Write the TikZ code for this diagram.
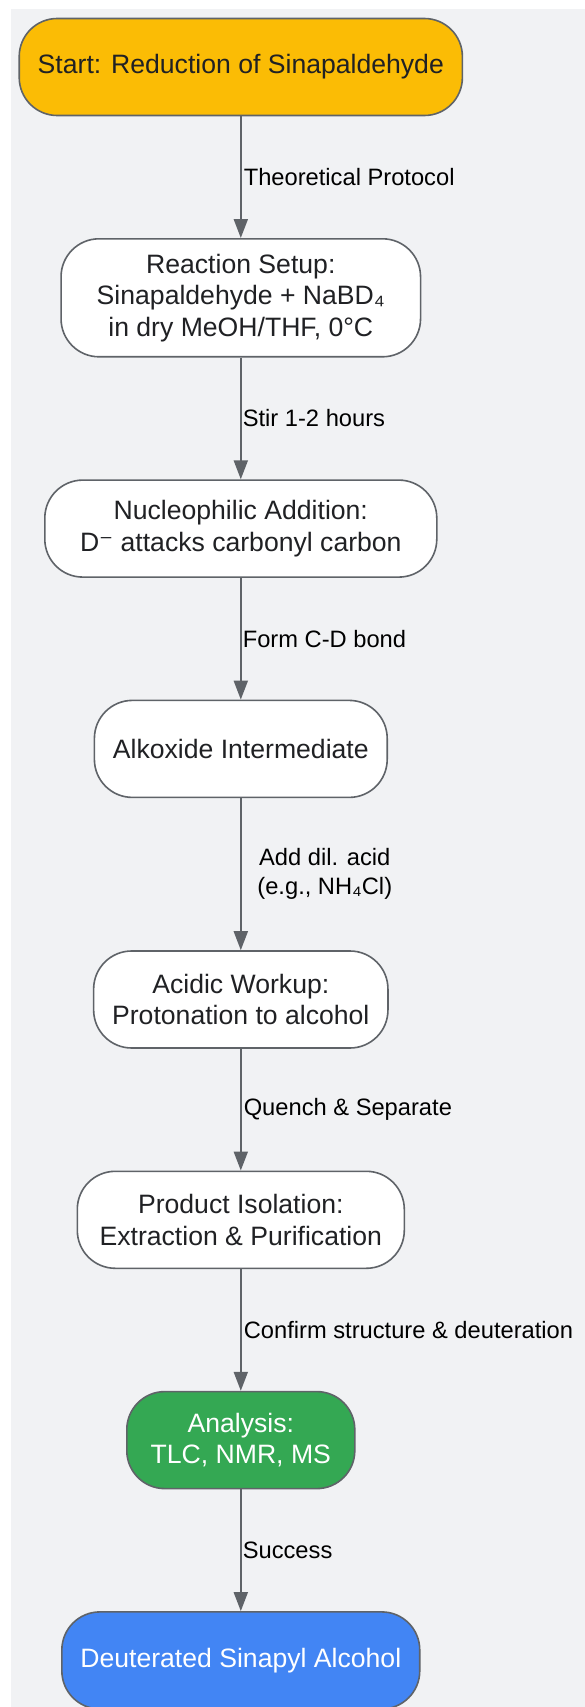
\documentclass[tikz,border=0pt]{standalone}
\usepackage{fontspec}
\setmainfont{Liberation Sans}
\newfontfamily\symfont{DejaVu Sans}
\usetikzlibrary{positioning,arrows.meta}
\definecolor{bggray}{HTML}{F1F2F4}
\definecolor{linegray}{HTML}{5F6368}
\definecolor{txtdark}{HTML}{202124}
\definecolor{startyellow}{HTML}{FBBC05}
\definecolor{okgreen}{HTML}{34A853}
\definecolor{endblue}{HTML}{4285F4}

\begin{document}
\begin{tikzpicture}[x=1pt,y=-1pt,node distance=121.7pt,
  box/.style={draw=linegray,line width=1.6pt,rounded corners=38pt,fill=white,text=txtdark,align=center,
    font=\fontsize{26.6}{31.6}\selectfont,minimum height=97pt,inner xsep=18.5pt,inner ysep=15pt},
  flow/.style={draw=linegray,line width=2pt,-{Triangle[length=19pt,width=14pt]}},
  lbl/.style={font=\fontsize{23.7}{29}\selectfont,text=black,align=center}]
  \useasboundingbox (0,0) rectangle (585,1707);
  \fill[bggray] (10.9,8.7) rectangle (585,1707);
  \node[box,fill=startyellow] (start) at (240.8,67) {Start: Reduction of Sinapaldehyde};
  \node[box,minimum width=359.5pt,below=of start] (setup) {Reaction Setup:\\Sinapaldehyde + NaBD₄\\in dry MeOH/THF, 0°C};
  \node[box,minimum width=392pt,below=of setup] (addition) {Nucleophilic Addition:\\D{\symfont ⁻} attacks carbonyl carbon};
  \node[box,below=of addition] (alkoxide) {Alkoxide Intermediate};
  \node[box,below=152pt of alkoxide] (workup) {Acidic Workup:\\Protonation to alcohol};
  \node[box,minimum width=327pt,below=of workup] (isolation) {Product Isolation:\\Extraction \& Purification};
  \node[box,minimum width=228pt,fill=okgreen,text=white,below=of isolation] (analysis) {Analysis:\\TLC, NMR, MS};
  \node[box,fill=endblue,text=white,below=of analysis] (product) {Deuterated Sinapyl Alcohol};
  \draw[flow] (start) -- node[lbl,anchor=west,inner xsep=2pt] {Theoretical Protocol} (setup);
  \draw[flow] (setup) -- node[lbl,anchor=west,inner xsep=1pt] {Stir 1-2 hours} (addition);
  \draw[flow] (addition) -- node[lbl,anchor=west,inner xsep=1pt] {Form C-D bond} (alkoxide);
  \draw[flow] (alkoxide) -- node[lbl,xshift=84pt] {Add dil. acid\\(e.g., NH₄Cl)} (workup);
  \draw[flow] (workup) -- node[lbl,anchor=west,inner xsep=2pt] {Quench \& Separate} (isolation);
  \draw[flow] (isolation) -- node[lbl,anchor=west,inner xsep=2pt] {Confirm structure \& deuteration} (analysis);
  \draw[flow] (analysis) -- node[lbl,anchor=west,inner xsep=1pt] {Success} (product);
\end{tikzpicture}
\end{document}
